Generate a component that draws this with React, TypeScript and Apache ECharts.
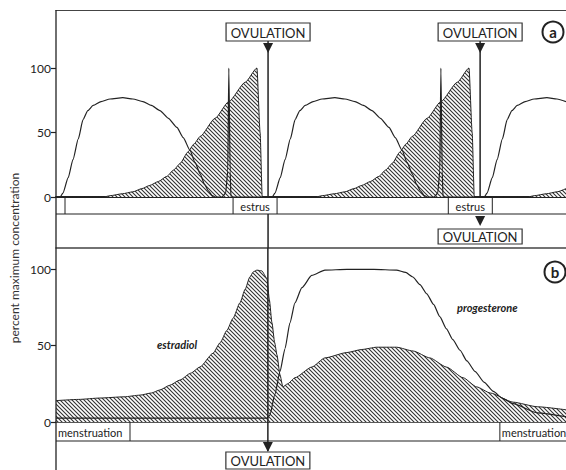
import React, { useEffect, useRef } from "react";
import * as echarts from "echarts";

// ---------- DATA ----------
// Panel a (rat estrous cycle), x in days
const RAT_X_MAX = 9.62;
const RAT_Y_MAX = 145;
const ratOvulationDays = [4, 8];
const ratEstrus: [number, number][] = [
  [-0.66, 0.17],
  [3.34, 4.17],
  [7.4, 8.23],
];
const ratProgesterone: [number, number][] = [
  [0, 0], [0.08, 0], [0.13, 3], [0.23, 15], [0.32, 29], [0.42, 45], [0.51, 60], [0.6, 67], [0.7, 71],
  [0.85, 74], [1.02, 76], [1.26, 77], [1.45, 76], [1.64, 74], [1.8, 71], [1.96, 67], [2.12, 61],
  [2.28, 54], [2.4, 46], [2.53, 36], [2.62, 27], [2.72, 18], [2.8, 10], [2.87, 5], [2.95, 1], [3.0, 0],
  [3.13, 0], [3.2, 3], [3.24, 20], [3.26, 100], [3.285, 20], [3.3, 0],
  [4.0, 0], [4.08, 0], [4.13, 3], [4.23, 15], [4.32, 29], [4.42, 45], [4.51, 60], [4.6, 67], [4.7, 71],
  [4.85, 74], [5.02, 76], [5.26, 77], [5.45, 76], [5.64, 74], [5.8, 71], [5.96, 67], [6.12, 61],
  [6.28, 54], [6.4, 46], [6.53, 36], [6.62, 27], [6.72, 18], [6.8, 10], [6.87, 5], [6.95, 1], [7.0, 0],
  [7.13, 0], [7.2, 3], [7.24, 20], [7.26, 100], [7.285, 20], [7.3, 0],
  [8.0, 0], [8.08, 0], [8.13, 3], [8.23, 15], [8.32, 29], [8.42, 45], [8.51, 60], [8.6, 67], [8.7, 71],
  [8.85, 74], [9.02, 76], [9.26, 77], [9.45, 76], [9.62, 74],
];
const ratEstradiol: [number, number][] = [
  [0, 0], [0.9, 0], [1.02, 1], [1.25, 2.5], [1.45, 4], [1.62, 6.5], [1.77, 9], [1.93, 12], [2.09, 16],
  [2.22, 21], [2.34, 26], [2.49, 35], [2.6, 41], [2.72, 47], [3.0, 61], [3.26, 74], [3.57, 89],
  [3.79, 100], [3.85, 50], [3.89, 0],
  [4.0, 0], [4.9, 0], [5.02, 1], [5.25, 2.5], [5.45, 4], [5.62, 6.5], [5.77, 9], [5.93, 12], [6.09, 16],
  [6.22, 21], [6.34, 26], [6.49, 35], [6.6, 41], [6.72, 47], [7.0, 61], [7.26, 74], [7.57, 89],
  [7.79, 100], [7.85, 50], [7.89, 0],
  [8.0, 0], [8.9, 0], [9.02, 1], [9.25, 2.5], [9.45, 4], [9.62, 6.5],
];

// Panel b (human menstrual cycle), x in days
const HUMAN_X_MAX = 33.7;
const HUMAN_Y_MAX = 114;
const humanOvulationDay = 14;
const humanMenstruation: [number, number][] = [
  [0, 4.89],
  [29.33, 36],
];
const humanEstradiol: [number, number][] = [
  [0, 14], [1.5, 14.8], [2.9, 15.7], [4.5, 16.5], [5.55, 17.6], [6.3, 19], [6.87, 21], [7.5, 24],
  [8.19, 27.5], [8.9, 32], [9.51, 36], [10.37, 45], [10.85, 52], [11.29, 60], [11.7, 68], [12.15, 78],
  [12.5, 87], [12.81, 95], [13.05, 98.5], [13.28, 99.5], [13.6, 99], [13.94, 94], [14.1, 80],
  [14.27, 65], [14.45, 52], [14.6, 44], [14.8, 31], [14.99, 23], [15.3, 25], [15.79, 29], [16.9, 36],
  [17.77, 42], [19.22, 45.5], [20.2, 47.5], [21.2, 49], [22.5, 49], [23.6, 46.5], [24.7, 42],
  [25.8, 36], [26.9, 29], [27.8, 23], [28.7, 19], [30.2, 13], [31.8, 10], [33.7, 8],
];
const humanProgesterone: [number, number][] = [
  [0, 2.6], [13.94, 2.6], [14.13, 4.5], [14.46, 18], [14.8, 33], [15.13, 48], [15.46, 65], [15.79, 78],
  [16.25, 88], [16.9, 96], [17.77, 99.5], [19.22, 100], [21.0, 100], [22.5, 99.5], [23.1, 98],
  [23.58, 95], [24.05, 90], [24.5, 84], [24.95, 77], [25.36, 69], [25.8, 61], [26.22, 54], [26.7, 47],
  [27.15, 40], [27.7, 33], [28.3, 26], [28.9, 20], [29.5, 15.5], [30.2, 12], [31.8, 6], [33.7, 3.5],
];

const yTicks = [0, 50, 100];
const yAxisTitle = "percent maximum concentration";
const ovulationText = "OVULATION";
const estrusText = "estrus";
const menstruationText = "menstruation";
const estradiolLabel = { text: "estradiol", day: 8.0, value: 51 };
const progesteroneLabel = { text: "progesterone", day: 28.5, value: 75 };

// ---------- STYLE ----------
const FONT = "Lato, 'Open Sans', 'DejaVu Sans', sans-serif";
const INK = "#222";

function makeHatch(): HTMLCanvasElement {
  const c = document.createElement("canvas");
  const s = 4;
  c.width = s;
  c.height = s;
  const ctx = c.getContext("2d")!;
  ctx.fillStyle = "#fff";
  ctx.fillRect(0, 0, s, s);
  ctx.strokeStyle = "#333";
  ctx.lineWidth = 1.1;
  ctx.beginPath();
  ctx.moveTo(-1, -1);
  ctx.lineTo(s + 1, s + 1);
  ctx.moveTo(-1, s - 1);
  ctx.lineTo(1, s + 1);
  ctx.moveTo(s - 1, -1);
  ctx.lineTo(s + 1, 1);
  ctx.stroke();
  return c;
}

const hiddenX = {
  axisTick: { show: false },
  axisLabel: { show: false },
  splitLine: { show: false },
};

export default function App() {
  const ref = useRef<HTMLDivElement>(null);

  useEffect(() => {
    if (!ref.current) return;
    const chart = echarts.init(ref.current, undefined, { renderer: "svg" });
    const hatch = makeHatch();
    const area = { color: { image: hatch, repeat: "repeat" }, opacity: 1 };

    const yAxisCommon = (gridIndex: number, max: number) => ({
      gridIndex,
      type: "value",
      min: 0,
      max,
      interval: 50,
      axisLine: { show: false },
      axisTick: {
        show: true,
        length: 5,
        customValues: yTicks,
        lineStyle: { color: INK, width: 1.2 },
      },
      axisLabel: {
        customValues: yTicks,
        margin: 5,
        fontSize: 12,
        color: INK,
        fontFamily: FONT,
        formatter: (v: number) => (yTicks.includes(v) ? String(v) : ""),
      },
      splitLine: { show: false },
    });

    const option: any = {
      animation: false,
      backgroundColor: "#fff",
      textStyle: { fontFamily: FONT },
      grid: [
        { left: 56, top: 10, width: 510, height: 187 },
        { left: 56, top: 248, width: 510, height: 174 },
      ],
      xAxis: [
        {
          gridIndex: 0, type: "value", min: 0, max: RAT_X_MAX, position: "bottom",
          axisLine: { show: true, onZero: false, lineStyle: { color: INK, width: 2 } }, ...hiddenX,
        },
        {
          gridIndex: 0, type: "value", min: 0, max: RAT_X_MAX, position: "top",
          axisLine: { show: true, onZero: false, lineStyle: { color: "#444", width: 1.2 } }, ...hiddenX,
        },
        {
          gridIndex: 1, type: "value", min: 0, max: HUMAN_X_MAX, position: "bottom",
          axisLine: { show: true, onZero: false, lineStyle: { color: INK, width: 1.5 } }, ...hiddenX,
        },
        {
          gridIndex: 1, type: "value", min: 0, max: HUMAN_X_MAX, position: "top",
          axisLine: { show: true, onZero: false, lineStyle: { color: "#444", width: 1.6 } }, ...hiddenX,
        },
      ],
      yAxis: [yAxisCommon(0, RAT_Y_MAX), yAxisCommon(1, HUMAN_Y_MAX)],
      series: [
        {
          type: "line", name: "rat estradiol", xAxisIndex: 0, yAxisIndex: 0, data: ratEstradiol,
          showSymbol: false, smooth: 0.2, smoothMonotone: "x", silent: true, z: 2,
          lineStyle: { color: INK, width: 1 }, areaStyle: area,
        },
        {
          type: "line", name: "rat progesterone", xAxisIndex: 0, yAxisIndex: 0, data: ratProgesterone,
          showSymbol: false, smooth: 0.2, smoothMonotone: "x", silent: true, z: 3,
          lineStyle: { color: INK, width: 1.2 },
        },
        {
          type: "line", name: "human estradiol", xAxisIndex: 2, yAxisIndex: 1, data: humanEstradiol,
          showSymbol: false, smooth: 0.2, smoothMonotone: "x", silent: true, z: 2,
          lineStyle: { color: INK, width: 1 }, areaStyle: area,
        },
        {
          type: "line", name: "human progesterone", xAxisIndex: 2, yAxisIndex: 1, data: humanProgesterone,
          showSymbol: false, smooth: 0.2, smoothMonotone: "x", silent: true, z: 3,
          lineStyle: { color: INK, width: 1.2 },
        },
      ],
    };
    chart.setOption(option);

    const X = (axis: number, v: number) => chart.convertToPixel({ xAxisIndex: axis }, v) as number;
    const Y = (axis: number, v: number) => chart.convertToPixel({ yAxisIndex: axis }, v) as number;

    const L = X(0, 0);
    const R = 566;
    const aTop = Y(0, RAT_Y_MAX);
    const aBase = Y(0, 0);
    const bTop = Y(1, HUMAN_Y_MAX);
    const bBase = Y(1, 0);
    const bandA = 17;
    const bandB = 19;
    const g: any[] = [];
    const line = (x1: number, y1: number, x2: number, y2: number, w = 1.2, color = INK) =>
      g.push({ type: "line", z: 20, silent: true, shape: { x1, y1, x2, y2 }, style: { stroke: color, lineWidth: w } });
    const txt = (x: number, y: number, text: string, font: string, align = "center", extra: any = {}) =>
      g.push({
        type: "text", z: 22, silent: true, x, y, ...extra,
        style: { text, font, fill: INK, align, verticalAlign: "middle" },
      });
    const arrowDown = (x: number, tipY: number) =>
      g.push({
        type: "polygon", z: 21, silent: true,
        shape: { points: [[x - 5, tipY - 10], [x + 5, tipY - 10], [x, tipY]] },
        style: { fill: INK },
      });
    const ovBox = (cx: number, y1: number, h: number) => {
      const w = 84;
      g.push({
        type: "rect", z: 21, silent: true,
        shape: { x: cx - w / 2, y: y1, width: w, height: h },
        style: { fill: "#fff", stroke: "#333", lineWidth: 1.2 },
      });
      txt(cx, y1 + h / 2 + 0.5, ovulationText, `13px ${FONT}`);
    };
    const circleLabel = (cx: number, cy: number, letter: string) => {
      g.push({
        type: "circle", z: 21, silent: true, shape: { cx, cy, r: 10.5 },
        style: { fill: "#fff", stroke: INK, lineWidth: 2 },
      });
      txt(cx, cy, letter, `bold 15px ${FONT}`);
    };

    // left spine
    line(L, aTop, L, 470, 1.3);

    // band a (estrus)
    line(L, aBase + bandA, R, aBase + bandA, 1.2);
    ratEstrus.forEach(([s, e]) => {
      const xs = X(0, s);
      const xe = X(0, e);
      if (xs > L) line(xs, aBase, xs, aBase + bandA, 1);
      if (xe > L && xe < R) line(xe, aBase, xe, aBase + bandA, 1);
      if (xs > L) txt((xs + xe) / 2, aBase + bandA / 2 + 0.5, estrusText, `11px ${FONT}`);
    });

    // band b (menstruation)
    line(L, bBase + bandB, R, bBase + bandB, 1.2);
    humanMenstruation.forEach(([s, e]) => {
      const xs = X(2, s);
      const xe = X(2, e);
      if (xs > L) line(xs, bBase, xs, bBase + bandB, 1);
      if (xe < R) line(xe, bBase, xe, bBase + bandB, 1);
      txt(xs + 2, bBase + bandB / 2 + 0.5, menstruationText, `11px ${FONT}`, "left");
    });

    // rat ovulations
    ratOvulationDays.forEach((d, i) => {
      const xo = X(0, d);
      const boxTop = aTop + 13;
      ovBox(xo, boxTop, 18);
      line(xo, boxTop + 18, xo, aBase, 1.5);
      arrowDown(xo, boxTop + 30);
      if (i === 0) {
        line(xo, aBase + bandA, xo, bTop, 1.5);
      } else {
        arrowDown(xo, aBase + 29);
        ovBox(xo, aBase + 32, 15);
      }
    });

    // human ovulation
    const xh = X(2, humanOvulationDay);
    line(xh, bTop, xh, bBase + bandB + 10, 1.5);
    arrowDown(xh, bBase + bandB + 11);
    ovBox(xh, bBase + bandB + 11, 17);

    // series labels
    txt(X(2, estradiolLabel.day), Y(1, estradiolLabel.value), estradiolLabel.text, `italic bold 11px ${FONT}`);
    txt(X(2, progesteroneLabel.day), Y(1, progesteroneLabel.value), progesteroneLabel.text, `italic bold 11px ${FONT}`);

    // panel letters
    circleLabel(553, 32, "a");
    circleLabel(555, 272, "b");

    // y axis title
    g.push({
      type: "text", z: 22, silent: true, x: 14, y: 258, rotation: Math.PI / 2,
      style: { text: yAxisTitle, font: `12px ${FONT}`, fill: "#333", align: "center", verticalAlign: "middle" },
    });

    chart.setOption({ graphic: g });

    return () => chart.dispose();
  }, []);

  return (
    <div
      ref={ref}
      style={{ position: "fixed", left: 0, top: 0, width: 566, height: 470, background: "#fff" }}
    />
  );
}
